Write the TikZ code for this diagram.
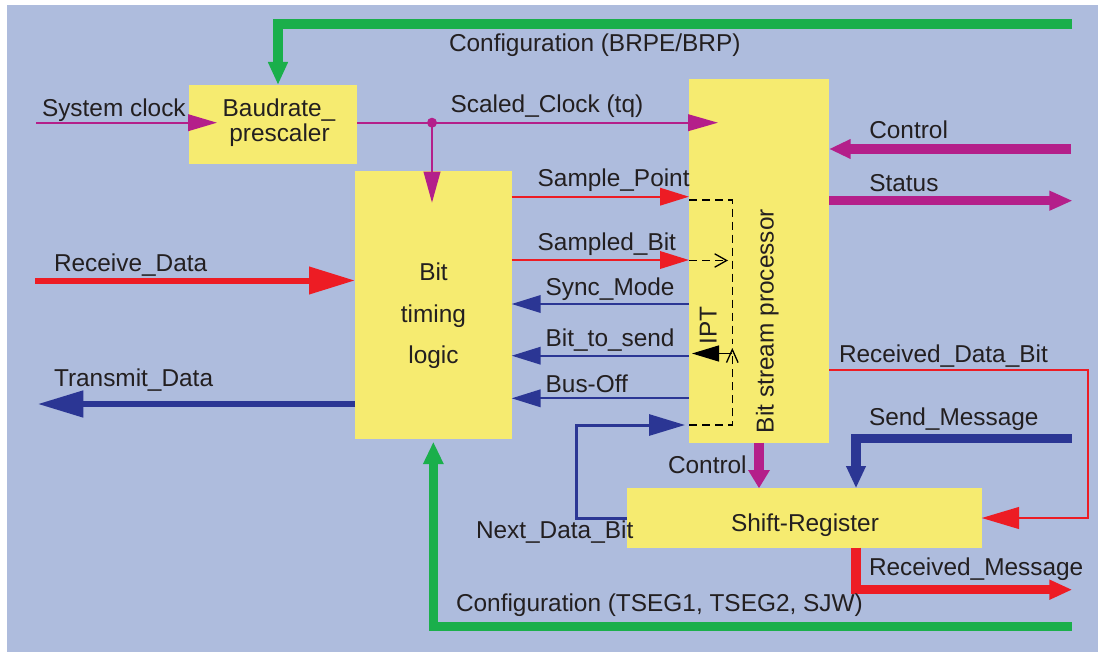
\documentclass[tikz,border=0pt]{standalone}
\usepackage{fontspec}
\setmainfont{Liberation Sans}
\usetikzlibrary{arrows.meta}
\definecolor{bgc}{HTML}{AEBCDD}
\definecolor{boxy}{HTML}{F6EB70}
\definecolor{grn}{HTML}{1AAF4B}
\definecolor{rd}{HTML}{ED1C24}
\definecolor{mag}{HTML}{B41F8A}
\definecolor{blu}{HTML}{2B3694}
\definecolor{txt}{HTML}{231F20}
\newcommand\labfont{\fontsize{24.4bp}{28bp}\selectfont}
\begin{document}
\begin{tikzpicture}[x=1bp,y=-1bp,
 box/.style={fill=boxy, inner sep=0pt, outer sep=0pt},
 lbl/.style={text=txt, font=\labfont, inner sep=0pt, outer sep=0pt, anchor=base west},
 clbl/.style={lbl, anchor=base},
 wire/.style={line width=2bp},
 midw/.style={line width=6bp},
 busw/.style={line width=9.5bp},
 dsh/.style={draw=black, line width=1.3bp, dash pattern=on 8bp off 5bp},
 ahS/.style={-{Triangle[length=29bp,width=17.5bp]}},
]
\useasboundingbox (0,0) rectangle (1098,652);
\fill[bgc] (7,5) rectangle (1098,652);

% boxes
\node[box, minimum width=168bp, minimum height=78.7bp] (br) at (273,124.35) {};
\node[box, minimum width=156.7bp, minimum height=268.3bp] (bt) at (433.35,305.15) {};
\node[box, minimum width=140bp, minimum height=363.7bp] (bsp) at (759,260.85) {};
\node[box, minimum width=354.7bp, minimum height=59.4bp] (sr) at (804.35,518) {};

% coordinates
\coordinate (cfgtop) at (1072,24);
\coordinate (sysclk) at (36,122.7);
\coordinate (rxd) at (35,280.5);
\coordinate (txd) at (37.7,404);
\coordinate (ctlin) at (1071,149);
\coordinate (stout) at (1072.7,200.7);
\coordinate (rdbturn) at (1087.7,370);
\coordinate (sendin) at (1071.7,438.7);
\coordinate (rmout) at (1072.3,589.7);
\coordinate (cfgbot) at (1071.7,626.7);
\coordinate (ndbturn) at (576.7,425);
\coordinate (Lsp) at (600,196.7);
\coordinate (Lsb) at (600,260);
\coordinate (Lsm) at (600,304);
\coordinate (Lbs) at (600,355.7);
\coordinate (Lbo) at (600,398.3);
\coordinate (dtop) at (732.3,200);
\coordinate (dmid) at (732.3,344);
\coordinate (dbot) at (732.3,425);
\coordinate (dipt) at (732.3,348);
\coordinate (sbend) at (728,260.5);
\coordinate (ipts) at (732.3,353.5);

% green configuration buses
\draw[grn, busw, -{Triangle[length=23bp,width=18.5bp]}] (cfgtop) -| ([xshift=5bp]br.north);
\draw[grn, busw, -{Triangle[length=22.3bp,width=19bp]}] (cfgbot) -| ([yshift=-2.4bp]bt.south);

% clocks
\draw[mag, wire, -{Triangle[length=29bp,width=16.6bp]}] (sysclk) -- ([xshift=28bp]sysclk -| br.west);
\draw[mag, wire, -{Triangle[length=30bp,width=16.6bp]}] (br.east |- sysclk) -- ([xshift=29bp]bsp.west |- sysclk);
\node[circle, fill=mag, inner sep=0pt, minimum size=10bp] (jn) at (432,122.7) {};
\draw[mag, wire, -{Triangle[length=31bp,width=16.6bp]}] (jn.center) -- ([yshift=-31.7bp]jn.center |- bt.north);

% bit timing <-> bit stream processor
\draw[rd, wire, ahS] (bt.east |- Lsp) -- (bsp.west |- Lsp);
\draw[rd, wire, ahS] (bt.east |- Lsb) -- (bsp.west |- Lsb);
\draw[blu, wire, ahS] (bsp.west |- Lsm) -- (bt.east |- Lsm);
\draw[blu, wire, ahS] (bsp.west |- Lbs) -- (bt.east |- Lbs);
\draw[blu, wire, ahS] (bsp.west |- Lbo) -- (bt.east |- Lbo);
\draw[blu, line width=3bp, -{Triangle[length=36bp,width=21bp]}] (sr.west) -| (ndbturn) -- ([xshift=-4bp]bsp.west |- ndbturn);

% external data
\draw[rd, midw, -{Triangle[length=46bp,width=26.4bp]}] (rxd) -- (bt.west |- rxd);
\draw[blu, midw, -{Triangle[length=45.6bp,width=25.6bp]}] (bt.west |- txd) -- (txd);

% right side
\draw[mag, busw, -{Triangle[length=21.7bp,width=18.4bp]}] (ctlin) -- (bsp.east |- ctlin);
\draw[mag, busw, -{Triangle[length=23.4bp,width=18.4bp]}] (bsp.east |- stout) -- (stout);
\draw[rd, line width=2.3bp, -{Triangle[length=37.3bp,width=21.6bp]}] (bsp.east |- rdbturn) -- (rdbturn) |- (sr.east);
\draw[blu, busw, -{Triangle[length=22.3bp,width=18.4bp]}] (sendin) -| ([xshift=51.65bp]sr.north);
\draw[mag, busw, -{Triangle[length=18.3bp,width=20.6bp]}] (bsp.south) -- (bsp.south |- sr.north);
\draw[rd, busw, -{Triangle[length=23bp,width=18.6bp]}] ([xshift=51.65bp]sr.south) |- (rmout);

% dashed internal paths
\draw[dsh] (bsp.west |- dtop) -- (dtop) -- (dmid);
\draw[dsh, -{Straight Barb[length=13bp,width=11.6bp]}] (bsp.west |- dbot) -- (dbot) -- (dipt);
\draw[dsh, -{Straight Barb[length=12bp,width=13.4bp]}] (bsp.west |- sbend) -- (sbend);
\draw[black, line width=1.3bp, -{Triangle[length=27bp,width=16bp]}] (ipts) -- ([xshift=3bp]bsp.west |- ipts);

% labels
\node[lbl] (tsys) at (42,117) {System clock};
\node[clbl] (tbr1) at (279,117) {Baudrate\_};
\node[clbl] (tbr2) at (279.5,141.7) {prescaler};
\node[lbl] (tcfg1) at (449,51.7) {Configuration (BRPE/BRP)};
\node[lbl] (tsc) at (450.7,112.7) {Scaled\_Clock (tq)};
\node[lbl] (tsp) at (537.7,186.7) {Sample\_Point};
\node[lbl] (tsb) at (537.7,250) {Sampled\_Bit};
\node[lbl] (tsm) at (545.7,295.7) {Sync\_Mode};
\node[lbl] (tbs) at (545.7,346.7) {Bit\_to\_send};
\node[lbl] (tbo) at (545.7,392) {Bus-Off};
\node[lbl] (trx) at (54,271.7) {Receive\_Data};
\node[lbl] (ttx) at (54,386.7) {Transmit\_Data};
\node[clbl] (tbt1) at (433.5,280.7) {Bit};
\node[clbl] (tbt2) at (433.5,322.7) {timing};
\node[clbl] (tbt3) at (433.5,363.3) {logic};
\node[lbl] (tctl) at (869.3,138.3) {Control};
\node[lbl] (tst) at (869.3,191.7) {Status};
\node[lbl] (trdb) at (839,362) {Received\_Data\_Bit};
\node[lbl] (tsend) at (869,425) {Send\_Message};
\node[clbl] (tsr) at (805,531) {Shift-Register};
\node[lbl] (trm) at (869,575) {Received\_Message};
\node[lbl] (tctl2) at (668,473) {Control};
\node[lbl] (tndb) at (476,538) {Next\_Data\_Bit};
\node[lbl] (tcfg2) at (456,611.7) {Configuration (TSEG1, TSEG2, SJW)};
\node[lbl, rotate=90] (tbsp) at (773.5,433) {Bit stream processor};
\node[lbl, rotate=90] (tipt) at (716.7,344.3) {IPT};
\end{tikzpicture}
\end{document}
